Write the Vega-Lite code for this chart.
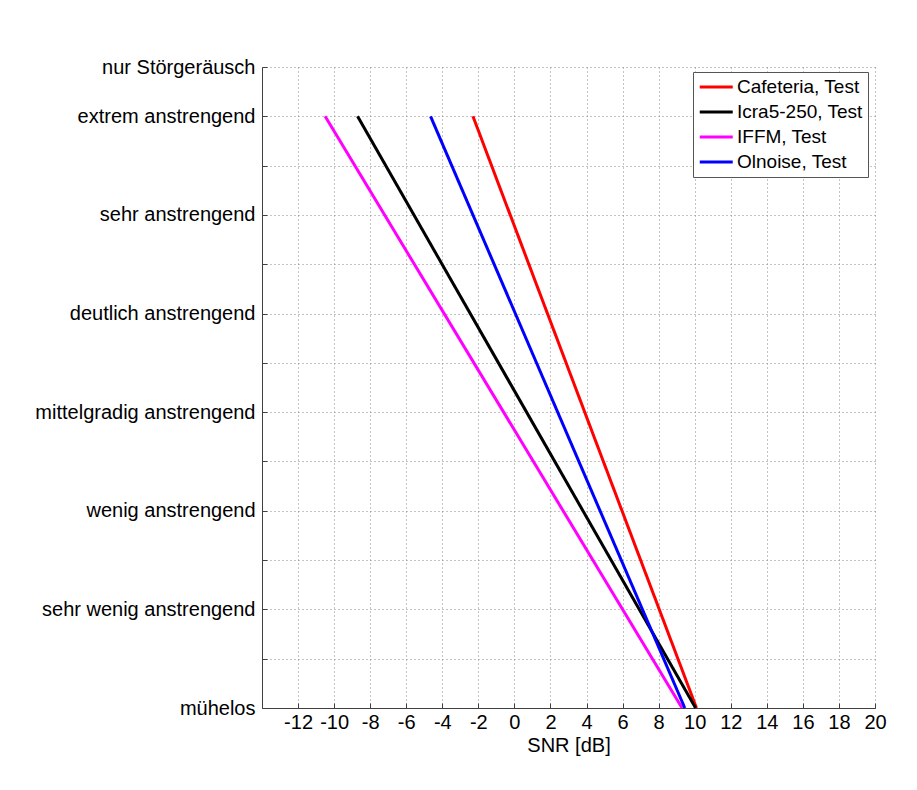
{
  "$schema": "https://vega.github.io/schema/vega-lite/v6.json",
  "width": 613,
  "height": 641,
  "autosize": "none",
  "padding": {"left": 262, "top": 67, "right": 42, "bottom": 82},
  "background": "white",
  "config": {
    "view": {"stroke": null},
    "font": "Liberation Sans",
    "axis": {
      "domainColor": "#404040",
      "domainWidth": 1,
      "tickColor": "#404040",
      "tickSize": -5,
      "tickWidth": 1,
      "gridColor": "#888888",
      "gridDash": [1, 3],
      "gridWidth": 1,
      "labelFontSize": 20,
      "labelColor": "black",
      "labelFont": "Liberation Sans",
      "labelLimit": 400,
      "titleFont": "Liberation Sans",
      "titleFontSize": 20,
      "titleFontWeight": "normal",
      "titleColor": "black"
    }
  },
  "data": {
    "values": [
      {"series": "Cafeteria, Test", "snr": -2.3, "level": 13},
      {"series": "Cafeteria, Test", "snr": 10.1, "level": 1},
      {"series": "Icra5-250, Test", "snr": -8.7, "level": 13},
      {"series": "Icra5-250, Test", "snr": 10.05, "level": 1},
      {"series": "IFFM, Test", "snr": -10.5, "level": 13},
      {"series": "IFFM, Test", "snr": 9.3, "level": 1},
      {"series": "Olnoise, Test", "snr": -4.65, "level": 13},
      {"series": "Olnoise, Test", "snr": 9.45, "level": 1}
    ]
  },
  "mark": {"type": "line", "strokeWidth": 3},
  "encoding": {
    "x": {
      "field": "snr",
      "type": "quantitative",
      "scale": {"domain": [-14, 20], "nice": false, "zero": false},
      "axis": {
        "values": [-12, -10, -8, -6, -4, -2, 0, 2, 4, 6, 8, 10, 12, 14, 16, 18, 20],
        "labelExpr": "'' + datum.value",
        "title": "SNR [dB]",
        "labelPadding": 9,
        "titlePadding": 3,
        "labelFlush": false
      }
    },
    "y": {
      "field": "level",
      "type": "quantitative",
      "scale": {"domain": [1, 14], "nice": false, "zero": false},
      "axis": {
        "values": [1, 2, 3, 4, 5, 6, 7, 8, 9, 10, 11, 12, 13, 14],
        "labelExpr": "datum.value == 1 ? 'mühelos' : datum.value == 3 ? 'sehr wenig anstrengend' : datum.value == 5 ? 'wenig anstrengend' : datum.value == 7 ? 'mittelgradig anstrengend' : datum.value == 9 ? 'deutlich anstrengend' : datum.value == 11 ? 'sehr anstrengend' : datum.value == 13 ? 'extrem anstrengend' : datum.value == 14 ? 'nur Störgeräusch' : ''",
        "title": null,
        "labelPadding": 12,
        "labelFlush": false,
        "labelOverlap": false
      }
    },
    "color": {
      "field": "series",
      "type": "nominal",
      "scale": {
        "domain": ["Cafeteria, Test", "Icra5-250, Test", "IFFM, Test", "Olnoise, Test"],
        "range": ["#ff0000", "#000000", "#ff00ff", "#0000ff"]
      },
      "legend": {
        "title": null,
        "orient": "none",
        "legendX": 431,
        "legendY": 5,
        "symbolType": "M-1,0H3",
        "symbolSize": 272,
        "symbolStrokeWidth": 3,
        "labelFontSize": 19,
        "labelColor": "black",
        "labelFont": "Liberation Sans",
        "labelOffset": 19,
        "labelLimit": 300,
        "rowPadding": 5,
        "padding": 5,
        "strokeColor": "#555555",
        "fillColor": "white",
        "cornerRadius": 0
      }
    }
  }
}
